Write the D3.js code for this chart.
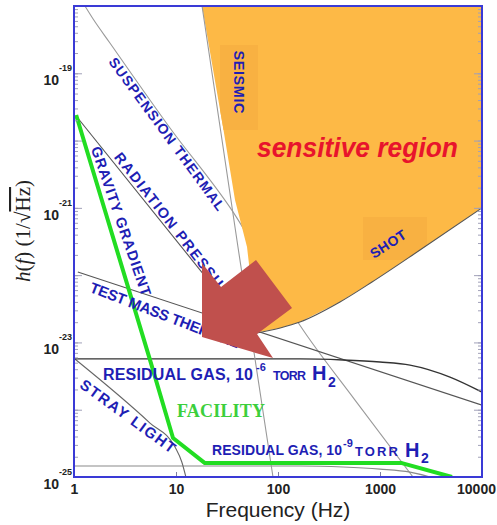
<!DOCTYPE html>
<html>
<head>
<meta charset="utf-8">
<script src="https://cdn.jsdelivr.net/npm/d3@7"></script>
<style>
body { margin: 0; background: #fff; }
svg { display: block; font-family: "Liberation Sans", Arial, sans-serif; }
.lbl { font-weight: bold; fill: #1e1eb4; }
.tl { font-weight: bold; fill: #222; }
</style>
</head>
<body>
<div id="chart"></div>
<script>
// noise curves as [frequency (Hz), h(f) (1/sqrt Hz)]
const facility = [[1.05, 2.4e-20], [5.56, 5.5e-24], [9.35, 3.8e-25], [19.2, 1.61e-25], [1640, 1.61e-25], [5080, 1.0e-25]];
const radiationPressure = [[1.05, 2.32e-20], [59.5, 1.15e-23]];
const suspensionThermal = [[1.28, 1e-18], [1.54, 6.4e-19], [2.25, 2.82e-19], [8.73, 1.54e-20], [36.2, 8.7e-22], [164, 1.8e-23], [569, 1.39e-24], [2107, 1e-25]];
const seismic = [[18.0, 1e-18], [40.5, 2.62e-22], [89.3, 1e-25]];
const shot = [[54.4, 1.33e-23], [105, 1.64e-23], [164, 2.01e-23], [405, 3.99e-23], [835, 7.9e-23], [2466, 2.36e-22], [10000, 1.0e-21]];
const regionEdge = [[18.0, 1e-18], [28.9, 1.59e-20], [37.9, 1.31e-21], [49.7, 2.62e-22], [62, 1.4e-23]];
const testMassThermal = [[1.09, 1.11e-22], [10000, 1.17e-24]];
const residualGas6 = [[1, 5.68e-24], [164, 5.68e-24], [434, 5.48e-24], [1000, 5.12e-24], [1968, 4.61e-24], [4853, 3.06e-24], [10000, 1.83e-24]];
const residualGas9 = [[1, 1.46e-25], [164, 1.46e-25], [434, 1.41e-25], [1000, 1.31e-25], [1968, 1.18e-25], [4853, 7.9e-26], [10000, 4.7e-26]];
const strayLight = [[1.02, 5.68e-24], [5.56, 6.34e-25], [9.78, 2.79e-25], [11.4, 1.67e-25], [12.5, 1e-25]];

const xTicks = [1, 10, 100, 1000, 10000];
const yTickExp = [-19, -21, -23, -25];

const W = 497, H = 525;
const mLeft = 74, mRight = 482, mTop = 6, mBottom = 477;

const x = d3.scaleLog().domain([1, 10000]).range([mLeft, mRight]);
const y = d3.scaleLog().domain([1e-25, 1e-18]).range([mBottom, mTop]);

const svg = d3.select("#chart").append("svg").attr("width", W).attr("height", H);
const defs = svg.append("defs");
defs.append("clipPath").attr("id", "plot")
  .append("rect").attr("x", mLeft).attr("y", mTop).attr("width", mRight - mLeft).attr("height", mBottom - mTop);

const line = d3.line().x(d => x(d[0])).y(d => y(d[1])).curve(d3.curveMonotoneX);
const plot = svg.append("g").attr("clip-path", "url(#plot)");

// ticks, pointing inward
const minor = y.ticks();
const majorY = d3.range(-25, -17).map(e => Math.pow(10, e));
function yTicksAt(xpos, axisFn) {
  svg.append("g").attr("class", "yt").attr("transform", `translate(${xpos},0)`)
     .call(axisFn(y).tickValues(minor).tickSize(-4).tickFormat(""))
     .call(g => g.select(".domain").remove());
  svg.append("g").attr("class", "yt").attr("transform", `translate(${xpos},0)`)
     .call(axisFn(y).tickValues(majorY).tickSize(-8).tickFormat(""))
     .call(g => g.select(".domain").remove());
}
yTicksAt(mLeft, d3.axisLeft);
yTicksAt(mRight, d3.axisRight);
svg.selectAll(".yt .tick line").attr("stroke", "#a0a0b8");

const xa = svg.append("g").attr("transform", `translate(0,${mBottom})`)
   .call(d3.axisBottom(x).tickValues(xTicks).tickSize(-5).tickPadding(7).tickFormat(d3.format("d")))
   .call(g => g.select(".domain").remove());
xa.selectAll(".tick line").attr("stroke", "#8080a0");
xa.selectAll("text").attr("class", "tl").attr("fill", "#222").style("font-size", "14px")
  .style("font-family", "'Liberation Sans', Arial, sans-serif")
  .attr("dx", d => d === 10000 ? -6 : 0);

// gray noise curves (under the sensitive region)
plot.append("path").datum(suspensionThermal).attr("d", line).attr("fill", "none").attr("stroke", "#9a9a9a").attr("stroke-width", 1.1);
plot.append("path").datum(residualGas9).attr("d", line).attr("fill", "none").attr("stroke", "#8a8a8a").attr("stroke-width", 1.1);
plot.append("path").datum(strayLight).attr("d", line).attr("fill", "none").attr("stroke", "#666").attr("stroke-width", 1.1);
plot.append("path").datum(testMassThermal).attr("d", line).attr("fill", "none").attr("stroke", "#555").attr("stroke-width", 1.1);
plot.append("path").datum(radiationPressure).attr("d", line).attr("fill", "none").attr("stroke", "#555").attr("stroke-width", 1.1);
plot.append("path").datum(residualGas6).attr("d", line).attr("fill", "none").attr("stroke", "#333").attr("stroke-width", 1.3);

// sensitive region
const region = regionEdge.concat(shot.filter(d => d[0] > 62), [[10000, 1e-18]]);
const regionPath = d3.line().x(d => x(d[0])).y(d => y(d[1])).curve(d3.curveLinear)(region) + "Z";
defs.append("clipPath").attr("id", "region").append("path").attr("d", regionPath);
plot.append("path").attr("d", regionPath).attr("fill", "#fdb946");
const boxes = plot.append("g").attr("clip-path", "url(#region)");
boxes.append("rect").attr("x", 220).attr("y", 45).attr("width", 38).attr("height", 85).attr("fill", "#f8b142");
boxes.append("rect").attr("x", 363).attr("y", 217).attr("width", 64).attr("height", 43).attr("fill", "#f8b142");

plot.append("path").datum(seismic).attr("d", line).attr("fill", "none").attr("stroke", "#999").attr("stroke-width", 1.1);
plot.append("path").datum(shot).attr("d", line).attr("fill", "none").attr("stroke", "#555").attr("stroke-width", 1.1);

// facility limit
plot.append("path").datum(facility).attr("d", d3.line().x(d => x(d[0])).y(d => y(d[1])))
  .attr("fill", "none").attr("stroke", "#22dd22").attr("stroke-width", 4).attr("stroke-linejoin", "round");

// frame
svg.append("rect").attr("x", mLeft).attr("y", mTop).attr("width", mRight - mLeft).attr("height", mBottom - mTop)
  .attr("fill", "none").attr("stroke", "#3a3ad6").attr("stroke-width", 2);

// y tick labels
yTickExp.forEach(e => {
  const ty = y(Math.pow(10, e));
  svg.append("text").attr("class", "tl").attr("x", 59).attr("y", ty + 12).attr("text-anchor", "end")
    .style("font-size", "14px").text("10");
  svg.append("text").attr("class", "tl").attr("x", 59).attr("y", ty - 2)
    .style("font-size", "9px").text(e);
});

// slanted labels
function label(txt, cx, cy, angle, size, len) {
  svg.append("text").attr("class", "lbl")
    .attr("transform", `translate(${cx},${cy}) rotate(${angle})`)
    .attr("text-anchor", "middle").attr("dominant-baseline", "central")
    .attr("textLength", len).attr("lengthAdjust", "spacing")
    .style("font-size", size + "px").text(txt);
}
label("SUSPENSION THERMAL", 167, 134, 53.8, 14, 186);
label("RADIATION PRESSURE", 176, 229, 52, 14.5, 190);
label("GRAVITY GRADIENT", 121, 221, 71, 14.5, 157);
label("TEST MASS THERMAL", 165, 315, 21, 15, 159);
label("STRAY LIGHT", 128, 416, 36, 15, 114);
label("SEISMIC", 239, 82, 90, 14.5, 63);
label("SHOT", 388, 244, -33, 14, 40);

// residual gas labels
const rg1 = svg.append("text").attr("class", "lbl");
rg1.append("tspan").attr("x", 103).attr("y", 380).style("font-size", "16px").attr("textLength", 150).text("RESIDUAL GAS, 10");
rg1.append("tspan").attr("x", 256).attr("y", 371).style("font-size", "11px").text("-6");
rg1.append("tspan").attr("x", 273).attr("y", 380).style("font-size", "12.5px").attr("textLength", 33).text("TORR");
rg1.append("tspan").attr("x", 312).attr("y", 380).style("font-size", "20px").text("H");
rg1.append("tspan").attr("x", 328).attr("y", 387).style("font-size", "14px").text("2");

const rg2 = svg.append("text").attr("class", "lbl");
rg2.append("tspan").attr("x", 212).attr("y", 455).style("font-size", "14px").attr("textLength", 130).text("RESIDUAL GAS, 10");
rg2.append("tspan").attr("x", 343).attr("y", 447).style("font-size", "11px").text("-9");
rg2.append("tspan").attr("x", 355).attr("y", 456).style("font-size", "13px").attr("textLength", 43).text("TORR");
rg2.append("tspan").attr("x", 405).attr("y", 457).style("font-size", "20px").text("H");
rg2.append("tspan").attr("x", 421).attr("y", 463).style("font-size", "14px").text("2");

svg.append("text").attr("x", 177).attr("y", 417).attr("textLength", 88)
  .style("font-family", "'Liberation Serif', 'Times New Roman', serif").style("font-weight", "bold")
  .style("font-size", "18px").attr("fill", "#3ccf3c").text("FACILITY");

svg.append("text").attr("x", 257).attr("y", 157).attr("textLength", 201).attr("lengthAdjust", "spacingAndGlyphs")
  .style("font-weight", "bold").style("font-style", "italic").style("font-size", "28px")
  .attr("fill", "#e8142c").text("sensitive region");

// arrow annotation
const arrowPts = [[202, 337], [202, 263], [221, 287], [256, 260], [292, 308], [257, 334], [273, 358]];
svg.append("polygon").attr("points", arrowPts.map(p => p.join(",")).join(" ")).attr("fill", "#c0504d");

// axis titles
svg.append("text").attr("x", 278).attr("y", 517).attr("text-anchor", "middle")
  .style("font-size", "21px").attr("fill", "#222").text("Frequency (Hz)");

const yt = svg.append("text").attr("transform", "translate(30,231) rotate(-90)").attr("text-anchor", "middle")
  .style("font-family", "'Liberation Serif', 'Times New Roman', serif").style("font-size", "21px").attr("fill", "#222");
yt.append("tspan").style("font-style", "italic").text("h");
yt.append("tspan").text("(");
yt.append("tspan").style("font-style", "italic").text("f");
yt.append("tspan").text(")  (1/√");
yt.append("tspan").style("text-decoration", "overline").text("Hz");
yt.append("tspan").text(")");
</script>
</body>
</html>
